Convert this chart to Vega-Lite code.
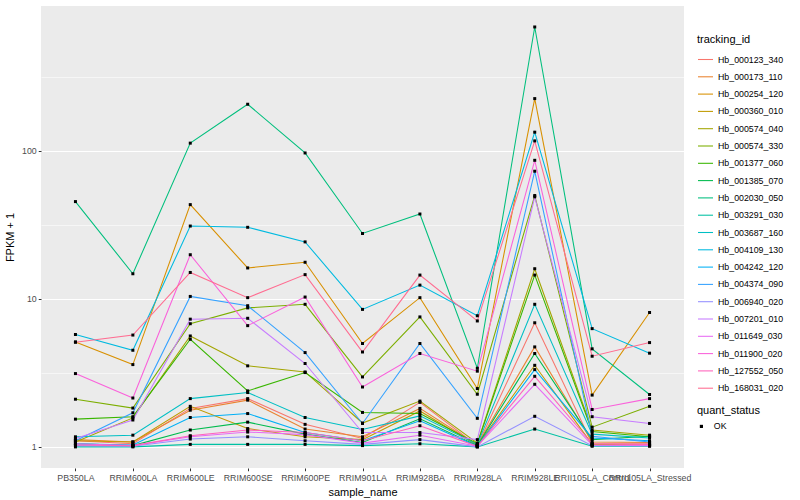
{
  "$schema": "https://vega.github.io/schema/vega-lite/v6.json",
  "width": 643,
  "height": 462,
  "autosize": {"type": "none"},
  "padding": {"left": 41, "top": 6, "right": 116, "bottom": 32},
  "background": "white",
  "config": {
    "font": "Liberation Sans",
    "view": {"fill": "#EBEBEB", "stroke": null},
    "axis": {"gridColor": "white", "domain": false, "tickColor": "#333333", "tickSize": 2.75, "labelColor": "#4D4D4D", "labelFontSize": 8.8, "titleFontSize": 11, "titleFontWeight": "normal", "titleColor": "black", "labelPadding": 2},
    "legend": {"titleFontSize": 11, "titleFontWeight": "normal", "titleColor": "black", "labelFontSize": 8.8, "labelColor": "black"}
  },
  "data": {"values": [
    {"tracking_id":"Hb_000123_340","sample_name":"PB350LA","FPKM":1.1,"quant_status":"OK"},
    {"tracking_id":"Hb_000123_340","sample_name":"RRIM600LA","FPKM":1.05,"quant_status":"OK"},
    {"tracking_id":"Hb_000123_340","sample_name":"RRIM600LE","FPKM":1.82,"quant_status":"OK"},
    {"tracking_id":"Hb_000123_340","sample_name":"RRIM600SE","FPKM":2.12,"quant_status":"OK"},
    {"tracking_id":"Hb_000123_340","sample_name":"RRIM600PE","FPKM":1.42,"quant_status":"OK"},
    {"tracking_id":"Hb_000123_340","sample_name":"RRIM901LA","FPKM":1.14,"quant_status":"OK"},
    {"tracking_id":"Hb_000123_340","sample_name":"RRIM928BA","FPKM":2.0,"quant_status":"OK"},
    {"tracking_id":"Hb_000123_340","sample_name":"RRIM928LA","FPKM":1.02,"quant_status":"OK"},
    {"tracking_id":"Hb_000123_340","sample_name":"RRIM928LE","FPKM":6.9,"quant_status":"OK"},
    {"tracking_id":"Hb_000123_340","sample_name":"RRII105LA_Control","FPKM":1.05,"quant_status":"OK"},
    {"tracking_id":"Hb_000123_340","sample_name":"RRII105LA_Stressed","FPKM":1.05,"quant_status":"OK"},

    {"tracking_id":"Hb_000173_110","sample_name":"PB350LA","FPKM":1.12,"quant_status":"OK"},
    {"tracking_id":"Hb_000173_110","sample_name":"RRIM600LA","FPKM":1.08,"quant_status":"OK"},
    {"tracking_id":"Hb_000173_110","sample_name":"RRIM600LE","FPKM":1.77,"quant_status":"OK"},
    {"tracking_id":"Hb_000173_110","sample_name":"RRIM600SE","FPKM":2.07,"quant_status":"OK"},
    {"tracking_id":"Hb_000173_110","sample_name":"RRIM600PE","FPKM":1.32,"quant_status":"OK"},
    {"tracking_id":"Hb_000173_110","sample_name":"RRIM901LA","FPKM":1.17,"quant_status":"OK"},
    {"tracking_id":"Hb_000173_110","sample_name":"RRIM928BA","FPKM":1.82,"quant_status":"OK"},
    {"tracking_id":"Hb_000173_110","sample_name":"RRIM928LA","FPKM":1.03,"quant_status":"OK"},
    {"tracking_id":"Hb_000173_110","sample_name":"RRIM928LE","FPKM":4.74,"quant_status":"OK"},
    {"tracking_id":"Hb_000173_110","sample_name":"RRII105LA_Control","FPKM":1.08,"quant_status":"OK"},
    {"tracking_id":"Hb_000173_110","sample_name":"RRII105LA_Stressed","FPKM":1.07,"quant_status":"OK"},

    {"tracking_id":"Hb_000254_120","sample_name":"PB350LA","FPKM":5.12,"quant_status":"OK"},
    {"tracking_id":"Hb_000254_120","sample_name":"RRIM600LA","FPKM":3.6,"quant_status":"OK"},
    {"tracking_id":"Hb_000254_120","sample_name":"RRIM600LE","FPKM":43.4,"quant_status":"OK"},
    {"tracking_id":"Hb_000254_120","sample_name":"RRIM600SE","FPKM":16.2,"quant_status":"OK"},
    {"tracking_id":"Hb_000254_120","sample_name":"RRIM600PE","FPKM":17.7,"quant_status":"OK"},
    {"tracking_id":"Hb_000254_120","sample_name":"RRIM901LA","FPKM":5.0,"quant_status":"OK"},
    {"tracking_id":"Hb_000254_120","sample_name":"RRIM928BA","FPKM":10.2,"quant_status":"OK"},
    {"tracking_id":"Hb_000254_120","sample_name":"RRIM928LA","FPKM":2.48,"quant_status":"OK"},
    {"tracking_id":"Hb_000254_120","sample_name":"RRIM928LE","FPKM":226,"quant_status":"OK"},
    {"tracking_id":"Hb_000254_120","sample_name":"RRII105LA_Control","FPKM":2.24,"quant_status":"OK"},
    {"tracking_id":"Hb_000254_120","sample_name":"RRII105LA_Stressed","FPKM":8.1,"quant_status":"OK"},

    {"tracking_id":"Hb_000360_010","sample_name":"PB350LA","FPKM":1.1,"quant_status":"OK"},
    {"tracking_id":"Hb_000360_010","sample_name":"RRIM600LA","FPKM":1.08,"quant_status":"OK"},
    {"tracking_id":"Hb_000360_010","sample_name":"RRIM600LE","FPKM":1.88,"quant_status":"OK"},
    {"tracking_id":"Hb_000360_010","sample_name":"RRIM600SE","FPKM":1.33,"quant_status":"OK"},
    {"tracking_id":"Hb_000360_010","sample_name":"RRIM600PE","FPKM":1.17,"quant_status":"OK"},
    {"tracking_id":"Hb_000360_010","sample_name":"RRIM901LA","FPKM":1.12,"quant_status":"OK"},
    {"tracking_id":"Hb_000360_010","sample_name":"RRIM928BA","FPKM":1.75,"quant_status":"OK"},
    {"tracking_id":"Hb_000360_010","sample_name":"RRIM928LA","FPKM":1.02,"quant_status":"OK"},
    {"tracking_id":"Hb_000360_010","sample_name":"RRIM928LE","FPKM":3.56,"quant_status":"OK"},
    {"tracking_id":"Hb_000360_010","sample_name":"RRII105LA_Control","FPKM":1.04,"quant_status":"OK"},
    {"tracking_id":"Hb_000360_010","sample_name":"RRII105LA_Stressed","FPKM":1.03,"quant_status":"OK"},

    {"tracking_id":"Hb_000574_040","sample_name":"PB350LA","FPKM":1.08,"quant_status":"OK"},
    {"tracking_id":"Hb_000574_040","sample_name":"RRIM600LA","FPKM":1.57,"quant_status":"OK"},
    {"tracking_id":"Hb_000574_040","sample_name":"RRIM600LE","FPKM":5.62,"quant_status":"OK"},
    {"tracking_id":"Hb_000574_040","sample_name":"RRIM600SE","FPKM":3.53,"quant_status":"OK"},
    {"tracking_id":"Hb_000574_040","sample_name":"RRIM600PE","FPKM":3.21,"quant_status":"OK"},
    {"tracking_id":"Hb_000574_040","sample_name":"RRIM901LA","FPKM":1.45,"quant_status":"OK"},
    {"tracking_id":"Hb_000574_040","sample_name":"RRIM928BA","FPKM":2.04,"quant_status":"OK"},
    {"tracking_id":"Hb_000574_040","sample_name":"RRIM928LA","FPKM":1.06,"quant_status":"OK"},
    {"tracking_id":"Hb_000574_040","sample_name":"RRIM928LE","FPKM":16.0,"quant_status":"OK"},
    {"tracking_id":"Hb_000574_040","sample_name":"RRII105LA_Control","FPKM":1.3,"quant_status":"OK"},
    {"tracking_id":"Hb_000574_040","sample_name":"RRII105LA_Stressed","FPKM":1.2,"quant_status":"OK"},

    {"tracking_id":"Hb_000574_330","sample_name":"PB350LA","FPKM":2.1,"quant_status":"OK"},
    {"tracking_id":"Hb_000574_330","sample_name":"RRIM600LA","FPKM":1.83,"quant_status":"OK"},
    {"tracking_id":"Hb_000574_330","sample_name":"RRIM600LE","FPKM":6.8,"quant_status":"OK"},
    {"tracking_id":"Hb_000574_330","sample_name":"RRIM600SE","FPKM":8.7,"quant_status":"OK"},
    {"tracking_id":"Hb_000574_330","sample_name":"RRIM600PE","FPKM":9.2,"quant_status":"OK"},
    {"tracking_id":"Hb_000574_330","sample_name":"RRIM901LA","FPKM":2.97,"quant_status":"OK"},
    {"tracking_id":"Hb_000574_330","sample_name":"RRIM928BA","FPKM":7.56,"quant_status":"OK"},
    {"tracking_id":"Hb_000574_330","sample_name":"RRIM928LA","FPKM":2.27,"quant_status":"OK"},
    {"tracking_id":"Hb_000574_330","sample_name":"RRIM928LE","FPKM":50,"quant_status":"OK"},
    {"tracking_id":"Hb_000574_330","sample_name":"RRII105LA_Control","FPKM":1.36,"quant_status":"OK"},
    {"tracking_id":"Hb_000574_330","sample_name":"RRII105LA_Stressed","FPKM":1.88,"quant_status":"OK"},

    {"tracking_id":"Hb_001377_060","sample_name":"PB350LA","FPKM":1.54,"quant_status":"OK"},
    {"tracking_id":"Hb_001377_060","sample_name":"RRIM600LA","FPKM":1.6,"quant_status":"OK"},
    {"tracking_id":"Hb_001377_060","sample_name":"RRIM600LE","FPKM":5.34,"quant_status":"OK"},
    {"tracking_id":"Hb_001377_060","sample_name":"RRIM600SE","FPKM":2.39,"quant_status":"OK"},
    {"tracking_id":"Hb_001377_060","sample_name":"RRIM600PE","FPKM":3.18,"quant_status":"OK"},
    {"tracking_id":"Hb_001377_060","sample_name":"RRIM901LA","FPKM":1.71,"quant_status":"OK"},
    {"tracking_id":"Hb_001377_060","sample_name":"RRIM928BA","FPKM":1.68,"quant_status":"OK"},
    {"tracking_id":"Hb_001377_060","sample_name":"RRIM928LA","FPKM":1.05,"quant_status":"OK"},
    {"tracking_id":"Hb_001377_060","sample_name":"RRIM928LE","FPKM":14.5,"quant_status":"OK"},
    {"tracking_id":"Hb_001377_060","sample_name":"RRII105LA_Control","FPKM":1.27,"quant_status":"OK"},
    {"tracking_id":"Hb_001377_060","sample_name":"RRII105LA_Stressed","FPKM":1.17,"quant_status":"OK"},

    {"tracking_id":"Hb_001385_070","sample_name":"PB350LA","FPKM":1.05,"quant_status":"OK"},
    {"tracking_id":"Hb_001385_070","sample_name":"RRIM600LA","FPKM":1.02,"quant_status":"OK"},
    {"tracking_id":"Hb_001385_070","sample_name":"RRIM600LE","FPKM":1.3,"quant_status":"OK"},
    {"tracking_id":"Hb_001385_070","sample_name":"RRIM600SE","FPKM":1.47,"quant_status":"OK"},
    {"tracking_id":"Hb_001385_070","sample_name":"RRIM600PE","FPKM":1.22,"quant_status":"OK"},
    {"tracking_id":"Hb_001385_070","sample_name":"RRIM901LA","FPKM":1.07,"quant_status":"OK"},
    {"tracking_id":"Hb_001385_070","sample_name":"RRIM928BA","FPKM":1.55,"quant_status":"OK"},
    {"tracking_id":"Hb_001385_070","sample_name":"RRIM928LA","FPKM":1.02,"quant_status":"OK"},
    {"tracking_id":"Hb_001385_070","sample_name":"RRIM928LE","FPKM":4.28,"quant_status":"OK"},
    {"tracking_id":"Hb_001385_070","sample_name":"RRII105LA_Control","FPKM":1.12,"quant_status":"OK"},
    {"tracking_id":"Hb_001385_070","sample_name":"RRII105LA_Stressed","FPKM":1.18,"quant_status":"OK"},

    {"tracking_id":"Hb_002030_050","sample_name":"PB350LA","FPKM":45.5,"quant_status":"OK"},
    {"tracking_id":"Hb_002030_050","sample_name":"RRIM600LA","FPKM":14.8,"quant_status":"OK"},
    {"tracking_id":"Hb_002030_050","sample_name":"RRIM600LE","FPKM":113,"quant_status":"OK"},
    {"tracking_id":"Hb_002030_050","sample_name":"RRIM600SE","FPKM":207,"quant_status":"OK"},
    {"tracking_id":"Hb_002030_050","sample_name":"RRIM600PE","FPKM":97,"quant_status":"OK"},
    {"tracking_id":"Hb_002030_050","sample_name":"RRIM901LA","FPKM":27.7,"quant_status":"OK"},
    {"tracking_id":"Hb_002030_050","sample_name":"RRIM928BA","FPKM":37.5,"quant_status":"OK"},
    {"tracking_id":"Hb_002030_050","sample_name":"RRIM928LA","FPKM":3.4,"quant_status":"OK"},
    {"tracking_id":"Hb_002030_050","sample_name":"RRIM928LE","FPKM":689,"quant_status":"OK"},
    {"tracking_id":"Hb_002030_050","sample_name":"RRII105LA_Control","FPKM":4.6,"quant_status":"OK"},
    {"tracking_id":"Hb_002030_050","sample_name":"RRII105LA_Stressed","FPKM":2.26,"quant_status":"OK"},

    {"tracking_id":"Hb_003291_030","sample_name":"PB350LA","FPKM":1.0,"quant_status":"OK"},
    {"tracking_id":"Hb_003291_030","sample_name":"RRIM600LA","FPKM":1.0,"quant_status":"OK"},
    {"tracking_id":"Hb_003291_030","sample_name":"RRIM600LE","FPKM":1.04,"quant_status":"OK"},
    {"tracking_id":"Hb_003291_030","sample_name":"RRIM600SE","FPKM":1.04,"quant_status":"OK"},
    {"tracking_id":"Hb_003291_030","sample_name":"RRIM600PE","FPKM":1.04,"quant_status":"OK"},
    {"tracking_id":"Hb_003291_030","sample_name":"RRIM901LA","FPKM":1.02,"quant_status":"OK"},
    {"tracking_id":"Hb_003291_030","sample_name":"RRIM928BA","FPKM":1.05,"quant_status":"OK"},
    {"tracking_id":"Hb_003291_030","sample_name":"RRIM928LA","FPKM":1.0,"quant_status":"OK"},
    {"tracking_id":"Hb_003291_030","sample_name":"RRIM928LE","FPKM":1.32,"quant_status":"OK"},
    {"tracking_id":"Hb_003291_030","sample_name":"RRII105LA_Control","FPKM":1.01,"quant_status":"OK"},
    {"tracking_id":"Hb_003291_030","sample_name":"RRII105LA_Stressed","FPKM":1.01,"quant_status":"OK"},

    {"tracking_id":"Hb_003687_160","sample_name":"PB350LA","FPKM":1.17,"quant_status":"OK"},
    {"tracking_id":"Hb_003687_160","sample_name":"RRIM600LA","FPKM":1.2,"quant_status":"OK"},
    {"tracking_id":"Hb_003687_160","sample_name":"RRIM600LE","FPKM":2.12,"quant_status":"OK"},
    {"tracking_id":"Hb_003687_160","sample_name":"RRIM600SE","FPKM":2.33,"quant_status":"OK"},
    {"tracking_id":"Hb_003687_160","sample_name":"RRIM600PE","FPKM":1.58,"quant_status":"OK"},
    {"tracking_id":"Hb_003687_160","sample_name":"RRIM901LA","FPKM":1.31,"quant_status":"OK"},
    {"tracking_id":"Hb_003687_160","sample_name":"RRIM928BA","FPKM":1.62,"quant_status":"OK"},
    {"tracking_id":"Hb_003687_160","sample_name":"RRIM928LA","FPKM":1.04,"quant_status":"OK"},
    {"tracking_id":"Hb_003687_160","sample_name":"RRIM928LE","FPKM":9.2,"quant_status":"OK"},
    {"tracking_id":"Hb_003687_160","sample_name":"RRII105LA_Control","FPKM":1.22,"quant_status":"OK"},
    {"tracking_id":"Hb_003687_160","sample_name":"RRII105LA_Stressed","FPKM":1.15,"quant_status":"OK"},

    {"tracking_id":"Hb_004109_130","sample_name":"PB350LA","FPKM":5.75,"quant_status":"OK"},
    {"tracking_id":"Hb_004109_130","sample_name":"RRIM600LA","FPKM":4.5,"quant_status":"OK"},
    {"tracking_id":"Hb_004109_130","sample_name":"RRIM600LE","FPKM":31.1,"quant_status":"OK"},
    {"tracking_id":"Hb_004109_130","sample_name":"RRIM600SE","FPKM":30.5,"quant_status":"OK"},
    {"tracking_id":"Hb_004109_130","sample_name":"RRIM600PE","FPKM":24.3,"quant_status":"OK"},
    {"tracking_id":"Hb_004109_130","sample_name":"RRIM901LA","FPKM":8.5,"quant_status":"OK"},
    {"tracking_id":"Hb_004109_130","sample_name":"RRIM928BA","FPKM":12.4,"quant_status":"OK"},
    {"tracking_id":"Hb_004109_130","sample_name":"RRIM928LA","FPKM":7.7,"quant_status":"OK"},
    {"tracking_id":"Hb_004109_130","sample_name":"RRIM928LE","FPKM":134,"quant_status":"OK"},
    {"tracking_id":"Hb_004109_130","sample_name":"RRII105LA_Control","FPKM":6.3,"quant_status":"OK"},
    {"tracking_id":"Hb_004109_130","sample_name":"RRII105LA_Stressed","FPKM":4.3,"quant_status":"OK"},

    {"tracking_id":"Hb_004242_120","sample_name":"PB350LA","FPKM":1.05,"quant_status":"OK"},
    {"tracking_id":"Hb_004242_120","sample_name":"RRIM600LA","FPKM":1.03,"quant_status":"OK"},
    {"tracking_id":"Hb_004242_120","sample_name":"RRIM600LE","FPKM":1.58,"quant_status":"OK"},
    {"tracking_id":"Hb_004242_120","sample_name":"RRIM600SE","FPKM":1.68,"quant_status":"OK"},
    {"tracking_id":"Hb_004242_120","sample_name":"RRIM600PE","FPKM":1.25,"quant_status":"OK"},
    {"tracking_id":"Hb_004242_120","sample_name":"RRIM901LA","FPKM":1.1,"quant_status":"OK"},
    {"tracking_id":"Hb_004242_120","sample_name":"RRIM928BA","FPKM":1.5,"quant_status":"OK"},
    {"tracking_id":"Hb_004242_120","sample_name":"RRIM928LA","FPKM":1.01,"quant_status":"OK"},
    {"tracking_id":"Hb_004242_120","sample_name":"RRIM928LE","FPKM":3.33,"quant_status":"OK"},
    {"tracking_id":"Hb_004242_120","sample_name":"RRII105LA_Control","FPKM":1.15,"quant_status":"OK"},
    {"tracking_id":"Hb_004242_120","sample_name":"RRII105LA_Stressed","FPKM":1.1,"quant_status":"OK"},

    {"tracking_id":"Hb_004374_090","sample_name":"PB350LA","FPKM":1.1,"quant_status":"OK"},
    {"tracking_id":"Hb_004374_090","sample_name":"RRIM600LA","FPKM":1.7,"quant_status":"OK"},
    {"tracking_id":"Hb_004374_090","sample_name":"RRIM600LE","FPKM":10.4,"quant_status":"OK"},
    {"tracking_id":"Hb_004374_090","sample_name":"RRIM600SE","FPKM":9.0,"quant_status":"OK"},
    {"tracking_id":"Hb_004374_090","sample_name":"RRIM600PE","FPKM":4.34,"quant_status":"OK"},
    {"tracking_id":"Hb_004374_090","sample_name":"RRIM901LA","FPKM":1.44,"quant_status":"OK"},
    {"tracking_id":"Hb_004374_090","sample_name":"RRIM928BA","FPKM":5.0,"quant_status":"OK"},
    {"tracking_id":"Hb_004374_090","sample_name":"RRIM928LA","FPKM":1.56,"quant_status":"OK"},
    {"tracking_id":"Hb_004374_090","sample_name":"RRIM928LE","FPKM":73,"quant_status":"OK"},
    {"tracking_id":"Hb_004374_090","sample_name":"RRII105LA_Control","FPKM":1.18,"quant_status":"OK"},
    {"tracking_id":"Hb_004374_090","sample_name":"RRII105LA_Stressed","FPKM":1.08,"quant_status":"OK"},

    {"tracking_id":"Hb_006940_020","sample_name":"PB350LA","FPKM":1.02,"quant_status":"OK"},
    {"tracking_id":"Hb_006940_020","sample_name":"RRIM600LA","FPKM":1.01,"quant_status":"OK"},
    {"tracking_id":"Hb_006940_020","sample_name":"RRIM600LE","FPKM":1.13,"quant_status":"OK"},
    {"tracking_id":"Hb_006940_020","sample_name":"RRIM600SE","FPKM":1.17,"quant_status":"OK"},
    {"tracking_id":"Hb_006940_020","sample_name":"RRIM600PE","FPKM":1.1,"quant_status":"OK"},
    {"tracking_id":"Hb_006940_020","sample_name":"RRIM901LA","FPKM":1.04,"quant_status":"OK"},
    {"tracking_id":"Hb_006940_020","sample_name":"RRIM928BA","FPKM":1.12,"quant_status":"OK"},
    {"tracking_id":"Hb_006940_020","sample_name":"RRIM928LA","FPKM":1.0,"quant_status":"OK"},
    {"tracking_id":"Hb_006940_020","sample_name":"RRIM928LE","FPKM":1.61,"quant_status":"OK"},
    {"tracking_id":"Hb_006940_020","sample_name":"RRII105LA_Control","FPKM":1.02,"quant_status":"OK"},
    {"tracking_id":"Hb_006940_020","sample_name":"RRII105LA_Stressed","FPKM":1.02,"quant_status":"OK"},

    {"tracking_id":"Hb_007201_010","sample_name":"PB350LA","FPKM":1.14,"quant_status":"OK"},
    {"tracking_id":"Hb_007201_010","sample_name":"RRIM600LA","FPKM":1.52,"quant_status":"OK"},
    {"tracking_id":"Hb_007201_010","sample_name":"RRIM600LE","FPKM":7.3,"quant_status":"OK"},
    {"tracking_id":"Hb_007201_010","sample_name":"RRIM600SE","FPKM":7.4,"quant_status":"OK"},
    {"tracking_id":"Hb_007201_010","sample_name":"RRIM600PE","FPKM":3.66,"quant_status":"OK"},
    {"tracking_id":"Hb_007201_010","sample_name":"RRIM901LA","FPKM":1.25,"quant_status":"OK"},
    {"tracking_id":"Hb_007201_010","sample_name":"RRIM928BA","FPKM":1.25,"quant_status":"OK"},
    {"tracking_id":"Hb_007201_010","sample_name":"RRIM928LA","FPKM":1.12,"quant_status":"OK"},
    {"tracking_id":"Hb_007201_010","sample_name":"RRIM928LE","FPKM":49,"quant_status":"OK"},
    {"tracking_id":"Hb_007201_010","sample_name":"RRII105LA_Control","FPKM":1.6,"quant_status":"OK"},
    {"tracking_id":"Hb_007201_010","sample_name":"RRII105LA_Stressed","FPKM":1.44,"quant_status":"OK"},

    {"tracking_id":"Hb_011649_030","sample_name":"PB350LA","FPKM":1.05,"quant_status":"OK"},
    {"tracking_id":"Hb_011649_030","sample_name":"RRIM600LA","FPKM":1.02,"quant_status":"OK"},
    {"tracking_id":"Hb_011649_030","sample_name":"RRIM600LE","FPKM":1.17,"quant_status":"OK"},
    {"tracking_id":"Hb_011649_030","sample_name":"RRIM600SE","FPKM":1.26,"quant_status":"OK"},
    {"tracking_id":"Hb_011649_030","sample_name":"RRIM600PE","FPKM":1.21,"quant_status":"OK"},
    {"tracking_id":"Hb_011649_030","sample_name":"RRIM901LA","FPKM":1.06,"quant_status":"OK"},
    {"tracking_id":"Hb_011649_030","sample_name":"RRIM928BA","FPKM":1.2,"quant_status":"OK"},
    {"tracking_id":"Hb_011649_030","sample_name":"RRIM928LA","FPKM":1.01,"quant_status":"OK"},
    {"tracking_id":"Hb_011649_030","sample_name":"RRIM928LE","FPKM":2.65,"quant_status":"OK"},
    {"tracking_id":"Hb_011649_030","sample_name":"RRII105LA_Control","FPKM":1.03,"quant_status":"OK"},
    {"tracking_id":"Hb_011649_030","sample_name":"RRII105LA_Stressed","FPKM":1.02,"quant_status":"OK"},

    {"tracking_id":"Hb_011900_020","sample_name":"PB350LA","FPKM":3.13,"quant_status":"OK"},
    {"tracking_id":"Hb_011900_020","sample_name":"RRIM600LA","FPKM":2.14,"quant_status":"OK"},
    {"tracking_id":"Hb_011900_020","sample_name":"RRIM600LE","FPKM":19.9,"quant_status":"OK"},
    {"tracking_id":"Hb_011900_020","sample_name":"RRIM600SE","FPKM":6.6,"quant_status":"OK"},
    {"tracking_id":"Hb_011900_020","sample_name":"RRIM600PE","FPKM":10.3,"quant_status":"OK"},
    {"tracking_id":"Hb_011900_020","sample_name":"RRIM901LA","FPKM":2.54,"quant_status":"OK"},
    {"tracking_id":"Hb_011900_020","sample_name":"RRIM928BA","FPKM":4.28,"quant_status":"OK"},
    {"tracking_id":"Hb_011900_020","sample_name":"RRIM928LA","FPKM":3.25,"quant_status":"OK"},
    {"tracking_id":"Hb_011900_020","sample_name":"RRIM928LE","FPKM":86.5,"quant_status":"OK"},
    {"tracking_id":"Hb_011900_020","sample_name":"RRII105LA_Control","FPKM":1.79,"quant_status":"OK"},
    {"tracking_id":"Hb_011900_020","sample_name":"RRII105LA_Stressed","FPKM":2.12,"quant_status":"OK"},

    {"tracking_id":"Hb_127552_050","sample_name":"PB350LA","FPKM":1.03,"quant_status":"OK"},
    {"tracking_id":"Hb_127552_050","sample_name":"RRIM600LA","FPKM":1.02,"quant_status":"OK"},
    {"tracking_id":"Hb_127552_050","sample_name":"RRIM600LE","FPKM":1.19,"quant_status":"OK"},
    {"tracking_id":"Hb_127552_050","sample_name":"RRIM600SE","FPKM":1.3,"quant_status":"OK"},
    {"tracking_id":"Hb_127552_050","sample_name":"RRIM600PE","FPKM":1.25,"quant_status":"OK"},
    {"tracking_id":"Hb_127552_050","sample_name":"RRIM901LA","FPKM":1.1,"quant_status":"OK"},
    {"tracking_id":"Hb_127552_050","sample_name":"RRIM928BA","FPKM":1.39,"quant_status":"OK"},
    {"tracking_id":"Hb_127552_050","sample_name":"RRIM928LA","FPKM":1.01,"quant_status":"OK"},
    {"tracking_id":"Hb_127552_050","sample_name":"RRIM928LE","FPKM":3.0,"quant_status":"OK"},
    {"tracking_id":"Hb_127552_050","sample_name":"RRII105LA_Control","FPKM":1.05,"quant_status":"OK"},
    {"tracking_id":"Hb_127552_050","sample_name":"RRII105LA_Stressed","FPKM":1.04,"quant_status":"OK"},

    {"tracking_id":"Hb_168031_020","sample_name":"PB350LA","FPKM":5.1,"quant_status":"OK"},
    {"tracking_id":"Hb_168031_020","sample_name":"RRIM600LA","FPKM":5.7,"quant_status":"OK"},
    {"tracking_id":"Hb_168031_020","sample_name":"RRIM600LE","FPKM":15.1,"quant_status":"OK"},
    {"tracking_id":"Hb_168031_020","sample_name":"RRIM600SE","FPKM":10.2,"quant_status":"OK"},
    {"tracking_id":"Hb_168031_020","sample_name":"RRIM600PE","FPKM":14.6,"quant_status":"OK"},
    {"tracking_id":"Hb_168031_020","sample_name":"RRIM901LA","FPKM":4.38,"quant_status":"OK"},
    {"tracking_id":"Hb_168031_020","sample_name":"RRIM928BA","FPKM":14.5,"quant_status":"OK"},
    {"tracking_id":"Hb_168031_020","sample_name":"RRIM928LA","FPKM":7.1,"quant_status":"OK"},
    {"tracking_id":"Hb_168031_020","sample_name":"RRIM928LE","FPKM":117,"quant_status":"OK"},
    {"tracking_id":"Hb_168031_020","sample_name":"RRII105LA_Control","FPKM":4.1,"quant_status":"OK"},
    {"tracking_id":"Hb_168031_020","sample_name":"RRII105LA_Stressed","FPKM":5.07,"quant_status":"OK"}
  ]},
  "encoding": {
    "x": {
      "field": "sample_name", "type": "nominal", "title": "sample_name",
      "sort": ["PB350LA","RRIM600LA","RRIM600LE","RRIM600SE","RRIM600PE","RRIM901LA","RRIM928BA","RRIM928LA","RRIM928LE","RRII105LA_Control","RRII105LA_Stressed"],
      "scale": {"type": "point", "padding": 0.6},
      "axis": {"labelAngle": 0, "labelOverlap": false, "gridWidth": 1.1, "titlePadding": 4, "labelPadding": 3}
    },
    "y": {
      "field": "FPKM", "type": "quantitative", "title": "FPKM + 1",
      "scale": {"type": "log", "domain": [0.72, 955], "nice": false, "zero": false},
      "axis": {
        "values": [1, 3.1623, 10, 31.623, 100, 316.23],
        "labelExpr": "datum.value == 1 ? '1' : datum.value == 10 ? '10' : datum.value == 100 ? '100' : ''",
        "gridWidth": {"condition": {"test": "datum.value == 1 || datum.value == 10 || datum.value == 100", "value": 1.1}, "value": 0.55},
        "tickOpacity": {"condition": {"test": "datum.value == 1 || datum.value == 10 || datum.value == 100", "value": 1}, "value": 0},
        "titlePadding": 6
      }
    }
  },
  "layer": [
    {
      "mark": {"type": "line", "strokeWidth": 1.07},
      "encoding": {
        "color": {
          "field": "tracking_id", "type": "nominal", "title": "tracking_id",
          "scale": {
            "domain": ["Hb_000123_340","Hb_000173_110","Hb_000254_120","Hb_000360_010","Hb_000574_040","Hb_000574_330","Hb_001377_060","Hb_001385_070","Hb_002030_050","Hb_003291_030","Hb_003687_160","Hb_004109_130","Hb_004242_120","Hb_004374_090","Hb_006940_020","Hb_007201_010","Hb_011649_030","Hb_011900_020","Hb_127552_050","Hb_168031_020"],
            "range": ["#F8766D","#EA8331","#D89000","#C09B00","#A3A500","#7CAE00","#39B600","#00BB4E","#00BF7D","#00C1A3","#00BFC4","#00BAE0","#00B0F6","#35A2FF","#9590FF","#C77CFF","#E76BF3","#FA62DB","#FF62BC","#FF6C91"]
          },
          "legend": {"orient": "none", "legendX": 656, "legendY": 28, "symbolType": "stroke", "symbolSize": 225, "symbolStrokeWidth": 1.07, "rowPadding": 3.3, "titlePadding": 6, "labelOffset": 4}
        }
      }
    },
    {
      "mark": {"type": "point", "filled": true, "opacity": 1, "color": "black"},
      "encoding": {
        "shape": {
          "field": "quant_status", "type": "nominal", "title": "quant_status",
          "scale": {"range": ["square"]},
          "legend": {"orient": "none", "legendX": 656, "legendY": 399, "symbolFillColor": "black", "symbolStrokeColor": "black", "symbolSize": 10, "titlePadding": 6, "labelOffset": 8}
        },
        "size": {"value": 9}
      }
    }
  ]
}
